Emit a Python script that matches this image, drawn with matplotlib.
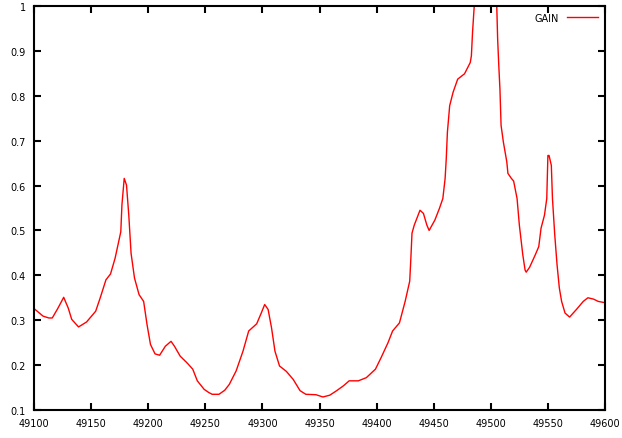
import matplotlib
matplotlib.use("Agg")
import matplotlib.pyplot as plt

# frequency points and gain values
freq = [49100, 49108, 49113, 49116, 49121, 49126, 49130, 49133, 49139, 49146,
        49154, 49158, 49163, 49167, 49171, 49176, 49177, 49179, 49181, 49183,
        49185, 49188, 49192, 49196, 49199, 49202, 49206, 49210, 49215, 49220,
        49223, 49228, 49234, 49239, 49243, 49249, 49253, 49256, 49262, 49267,
        49271, 49277, 49283, 49288, 49295, 49299, 49302, 49305, 49308, 49311,
        49315, 49321, 49327, 49333, 49338, 49347, 49353, 49359, 49365, 49371,
        49376, 49384, 49391, 49399, 49404, 49410, 49414, 49420, 49425, 49429,
        49430, 49431, 49433, 49438, 49441, 49444, 49446, 49451, 49455, 49458,
        49460, 49461, 49462, 49464, 49467, 49471, 49477, 49482, 49483, 49484,
        49486, 49490, 49495, 49500, 49505, 49506, 49507, 49508, 49509, 49511,
        49514, 49515, 49518, 49520, 49523, 49525, 49528, 49530, 49531, 49534,
        49539, 49542, 49544, 49547, 49549, 49550, 49551, 49553, 49554, 49556,
        49558, 49560, 49562, 49565, 49569, 49575, 49581, 49585, 49590, 49594,
        49600]
gain = [0.326, 0.309, 0.305, 0.305, 0.327, 0.351, 0.327, 0.302, 0.285, 0.296,
        0.320, 0.350, 0.390, 0.403, 0.438, 0.497, 0.557, 0.616, 0.601, 0.534,
        0.449, 0.394, 0.357, 0.342, 0.290, 0.246, 0.225, 0.222, 0.242, 0.253,
        0.242, 0.220, 0.205, 0.191, 0.165, 0.146, 0.139, 0.135, 0.135, 0.144,
        0.157, 0.187, 0.231, 0.276, 0.292, 0.316, 0.335, 0.324, 0.283, 0.231,
        0.198, 0.186, 0.168, 0.143, 0.135, 0.134, 0.129, 0.133, 0.143, 0.154,
        0.165, 0.165, 0.172, 0.191, 0.217, 0.250, 0.276, 0.294, 0.342, 0.387,
        0.438, 0.494, 0.512, 0.545, 0.538, 0.512, 0.500, 0.523, 0.549, 0.571,
        0.616, 0.660, 0.719, 0.778, 0.808, 0.837, 0.849, 0.874, 0.889, 0.941,
        1.02, 1.08, 1.10, 1.08, 1.02, 0.926, 0.867, 0.815, 0.734, 0.697,
        0.653, 0.627, 0.616, 0.610, 0.571, 0.512, 0.446, 0.412, 0.407, 0.418,
        0.446, 0.464, 0.505, 0.534, 0.571, 0.667, 0.667, 0.645, 0.571, 0.490,
        0.424, 0.372, 0.342, 0.316, 0.307, 0.324, 0.342, 0.350, 0.347, 0.342,
        0.339]

xticks = [49100, 49150, 49200, 49250, 49300, 49350, 49400, 49450, 49500, 49550, 49600]
yticks = [0.1, 0.2, 0.3, 0.4, 0.5, 0.6, 0.7, 0.8, 0.9, 1]
ylabels = ["0.1", "0.2", "0.3", "0.4", "0.5", "0.6", "0.7", "0.8", "0.9", "1"]

fig = plt.figure(figsize=(6.22, 4.39), dpi=100)
ax = fig.add_axes([34 / 622, 1 - 411 / 439, 571 / 622, 404 / 439])
ax.plot(freq, gain, color="red", lw=1, label="GAIN")
ax.set_xlim(49100, 49600)
ax.set_ylim(0.1, 1)
ax.set_xticks(xticks)
ax.set_xticklabels([str(t) for t in xticks])
ax.set_yticks(yticks)
ax.set_yticklabels(ylabels)
ax.tick_params(direction="in", length=5, width=1.5, labelsize=7,
               top=True, right=True, pad=6)
for s in ax.spines.values():
    s.set_linewidth(1.5)
leg = ax.legend(loc="upper right", frameon=False, fontsize=7,
                markerfirst=False, handlelength=3.2, borderaxespad=0.3)
fig.savefig("out.png", dpi=100)
